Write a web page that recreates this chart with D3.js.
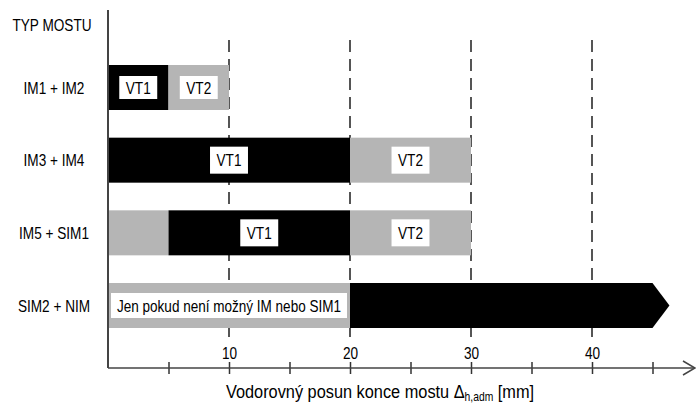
<!DOCTYPE html>
<html lang="en">
<head>
  <meta charset="utf-8" />
  <title>Typ mostu</title>
  <script src="https://d3js.org/d3.v7.min.js"></script>
  <style>
    body { margin: 0; background: #fff; }
    text { font-family: "Liberation Sans", Arial, sans-serif; fill: #000; }
  </style>
</head>
<body>
  <div id="chart"></div>
  <script>
    // categories (rows, top to bottom)
    var rows = ["IM1 + IM2", "IM3 + IM4", "IM5 + SIM1", "SIM2 + NIM"];

    // segments: row index, start, end [mm], type, label
    var segRow   = [0, 0, 1, 1, 2, 2, 2, 3, 3];
    var segStart = [0, 5, 0, 20, 0, 5, 20, 0, 20];
    var segEnd   = [5, 10, 20, 30, 5, 20, 30, 20, 45];
    var segType  = ["black", "gray", "black", "gray", "gray", "black", "gray", "gray", "arrow"];
    var segLabel = ["VT1", "VT2", "VT1", "VT2", "", "VT1", "VT2", "Jen pokud není možný IM nebo SIM1", ""];

    var gridValues = [10, 20, 30, 40];
    var tickValues = [5, 10, 15, 20, 25, 30, 35, 40, 45];

    var segments = segRow.map(function(r, i) {
      return { row: rows[r], start: segStart[i], end: segEnd[i], type: segType[i], label: segLabel[i] };
    });

    var width = 696, height = 408;
    var x0 = 108, axisY = 368;

    // squeeze text horizontally (the original uses a narrow face)
    function condense(sel, f) {
      sel.each(function() {
        var n = this.getComputedTextLength();
        d3.select(this).attr("textLength", n * f).attr("lengthAdjust", "spacingAndGlyphs");
      });
    }

    var svg = d3.select("#chart")
                .append("svg")
                .attr("width", width)
                .attr("height", height);

    var x = d3.scaleLinear()
              .domain([0, 40])
              .range([x0, 592]);

    var y = d3.scalePoint()
              .domain(rows)
              .range([87.5, 305.5]);

    var barH = 45;

    // dashed grid lines
    svg.selectAll(".grid")
       .data(gridValues)
       .enter()
       .append("line")
       .attr("x1", function(d) { return x(d); })
       .attr("x2", function(d) { return x(d); })
       .attr("y1", 40)
       .attr("y2", 340)
       .attr("stroke", "#555")
       .attr("stroke-width", 2)
       .attr("stroke-dasharray", "12,7");

    // bars
    svg.selectAll(".bar")
       .data(segments.filter(function(d) { return d.type !== "arrow"; }))
       .enter()
       .append("rect")
       .attr("x", function(d) { return x(d.start); })
       .attr("y", function(d) { return y(d.row) - barH / 2; })
       .attr("width", function(d) { return x(d.end) - x(d.start); })
       .attr("height", barH)
       .attr("fill", function(d) { return d.type === "black" ? "#000" : "#b5b5b5"; });

    // arrow bar
    var tip = x(46.4) - x(45);
    svg.selectAll(".arrowbar")
       .data(segments.filter(function(d) { return d.type === "arrow"; }))
       .enter()
       .append("path")
       .attr("fill", "#000")
       .attr("d", function(d) {
         var t = y(d.row) - barH / 2, b = y(d.row) + barH / 2, m = y(d.row);
         return "M" + x(d.start) + "," + t + "L" + x(d.end) + "," + t +
                "L" + (x(d.end) + tip) + "," + m + "L" + x(d.end) + "," + b +
                "L" + x(d.start) + "," + b + "Z";
       });

    // white label boxes
    var labels = svg.selectAll(".lbl")
       .data(segments.filter(function(d) { return d.label; }))
       .enter()
       .append("g");

    labels.each(function(d) {
      var g = d3.select(this);
      var long = d.label.length > 5;
      var cx = (x(d.start) + x(d.end)) / 2;
      var cy = y(d.row);
      var t = g.append("text")
               .attr("x", cx)
               .attr("y", cy)
               .attr("dy", "0.36em")
               .attr("text-anchor", "middle")
               .attr("font-size", 17)
               .text(d.label);
      var w, h = d.row === rows[0] ? 23 : 27;
      if (long) {
        w = x(d.end) - x(d.start) - 6;
        h = 25;
        t.attr("textLength", w - 12).attr("lengthAdjust", "spacingAndGlyphs");
      } else {
        condense(t, 0.8);
        w = +t.attr("textLength") + 13;
      }
      g.insert("rect", "text")
       .attr("x", cx - w / 2)
       .attr("y", cy - h / 2)
       .attr("width", w)
       .attr("height", h)
       .attr("fill", "#fff");
    });

    // category labels
    svg.selectAll(".cat")
       .data(rows)
       .enter()
       .append("text")
       .attr("x", 54)
       .attr("y", function(d) { return y(d); })
       .attr("dy", "0.36em")
       .attr("text-anchor", "middle")
       .attr("font-size", 17)
       .text(function(d) { return d; })
       .call(condense, 0.8);

    svg.append("text")
       .attr("x", 52)
       .attr("y", 25)
       .attr("dy", "0.36em")
       .attr("text-anchor", "middle")
       .attr("font-size", 17)
       .text("TYP MOSTU")
       .call(condense, 0.8);

    // y axis line
    svg.append("line")
       .attr("x1", x0).attr("x2", x0)
       .attr("y1", 10).attr("y2", axisY)
       .attr("stroke", "#444")
       .attr("stroke-width", 2);

    // x axis
    var xAxis = d3.axisBottom(x)
                  .tickValues(tickValues)
                  .tickSizeOuter(0)
                  .tickSize(6)
                  .tickFormat(function(d) { return gridValues.indexOf(d) >= 0 ? d : ""; });

    var gx = svg.append("g")
                .attr("transform", "translate(0," + axisY + ")")
                .call(xAxis);
    gx.select(".domain").remove();
    gx.selectAll(".tick line")
      .attr("y1", -6).attr("y2", 6)
      .attr("stroke", "#333")
      .attr("stroke-width", 1.5);
    gx.selectAll(".tick text")
      .attr("y", -9)
      .attr("dy", 0)
      .attr("font-size", 17)
      .attr("font-family", null)
      .attr("fill", "#000")
      .call(condense, 0.8);

    svg.append("line")
       .attr("x1", x0).attr("x2", 694)
       .attr("y1", axisY).attr("y2", axisY)
       .attr("stroke", "#444")
       .attr("stroke-width", 1.5);
    svg.append("path")
       .attr("d", "M683," + (axisY - 7) + "L695," + axisY + "L683," + (axisY + 7))
       .attr("fill", "none")
       .attr("stroke", "#444")
       .attr("stroke-width", 1.5);

    // x axis title (narrowed with a transform)
    var title = svg.append("g")
                   .attr("transform", "translate(380,398) scale(0.86,1)")
                   .append("text")
                   .attr("text-anchor", "middle")
                   .attr("font-size", 19);
    title.append("tspan").text("Vodorovný posun konce mostu Δ");
    title.append("tspan").attr("font-size", 12).attr("dy", 3).text("h,adm");
    title.append("tspan").attr("dy", -3).text(" [mm]");
  </script>
</body>
</html>
